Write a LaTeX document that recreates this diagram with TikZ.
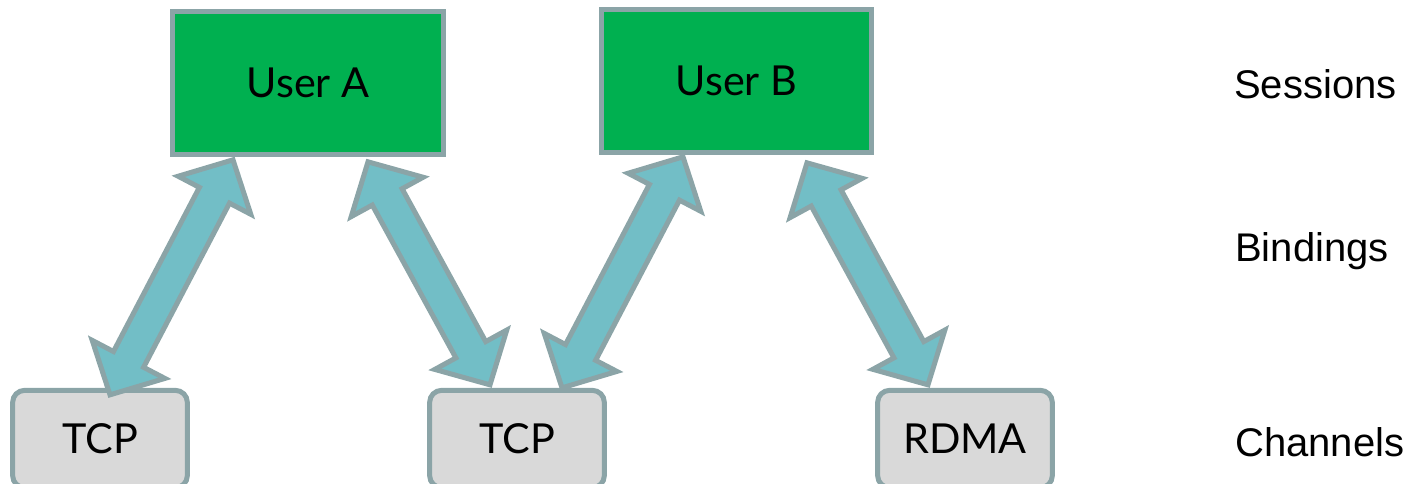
\documentclass[tikz,border=0pt]{standalone}
\usepackage{fontspec}
\setmainfont{Liberation Sans}
\newfontfamily\boxfont{Lato}
\usetikzlibrary{calc,positioning}
\definecolor{usergreen}{RGB}{0,176,80}
\definecolor{edgegray}{RGB}{139,164,167}
\definecolor{linkteal}{RGB}{114,190,198}
\definecolor{chanfill}{RGB}{217,217,217}
\tikzstyle{session} = [rectangle, draw=edgegray, fill=usergreen, line width=3.75pt, minimum width=203pt, minimum height=107pt, inner sep=0pt, font=\boxfont\fontsize{31}{37}\selectfont]
\tikzstyle{channel} = [rectangle, rounded corners=9pt, draw=edgegray, fill=chanfill, line width=3.75pt, minimum width=131pt, minimum height=73pt, inner sep=0pt, font=\boxfont\fontsize{31}{37}\selectfont]
\tikzstyle{layer} = [anchor=base west, inner sep=0pt, font=\fontsize{30}{36}\selectfont]
\tikzstyle{binding} = [draw=edgegray, fill=linkteal, line width=3.75pt, line join=miter]
\newcommand{\headlen}{30pt}
\newcommand{\headhalf}{30.75pt}
\newcommand{\shafthalf}{12.75pt}
% fat double-headed arrow between two tips
\newcommand{\bindarrow}[2]{%
  \draw[binding] (#1)
    -- ($($(#1)!\headlen!(#2)$)!\headhalf!90:(#2)$)
    -- ($($(#1)!\headlen!(#2)$)!\shafthalf!90:(#2)$)
    -- ($($(#2)!\headlen!(#1)$)!\shafthalf!90:(#2)$)
    -- ($($(#2)!\headlen!(#1)$)!\headhalf!90:(#2)$)
    -- (#2)
    -- ($($(#2)!\headlen!(#1)$)!\headhalf!-90:(#2)$)
    -- ($($(#2)!\headlen!(#1)$)!\shafthalf!-90:(#2)$)
    -- ($($(#1)!\headlen!(#2)$)!\shafthalf!-90:(#2)$)
    -- ($($(#1)!\headlen!(#2)$)!\headhalf!-90:(#2)$)
    -- cycle;}
\begin{document}
\begin{tikzpicture}[x=0.75pt, y=-0.75pt]
\useasboundingbox (0,0) rectangle (1418,484);
\clip (0,0) rectangle (1418,484);

% sessions
\node[session] (usera) at (308,83) {User A};
\node[session] (userb) at (736.5,81) {User B};

% channels
\node[channel] (tcpa) at (100,439) {TCP};
\node[channel] (tcpb) at (517,439) {TCP};
\node[channel] (rdma) at (965,439) {RDMA};

% bindings
\coordinate (ua1) at ($(usera.south)+(-75,3)$);
\coordinate (ua2) at ($(usera.south)+(60,5)$);
\coordinate (ub1) at ($(userb.south)+(-53.5,2)$);
\coordinate (ub2) at ($(userb.south)+(70.5,8)$);
\coordinate (ta1) at ($(tcpa.north)+(10,7)$);
\coordinate (tb1) at ($(tcpb.north)+(-27,-3)$);
\coordinate (tb2) at ($(tcpb.north)+(45,0)$);
\coordinate (rd1) at ($(rdma.north)+(-37,-3)$);
\bindarrow{ta1}{ua1}
\bindarrow{tb1}{ua2}
\bindarrow{tb2}{ub1}
\bindarrow{rd1}{ub2}

% layer names
\node[layer] (sessions) at (1234,99) {Sessions};
\node[layer] (bindings) at (1235,262) {Bindings};
\node[layer] (channels) at (1235,457) {Channels};
\end{tikzpicture}
\end{document}
